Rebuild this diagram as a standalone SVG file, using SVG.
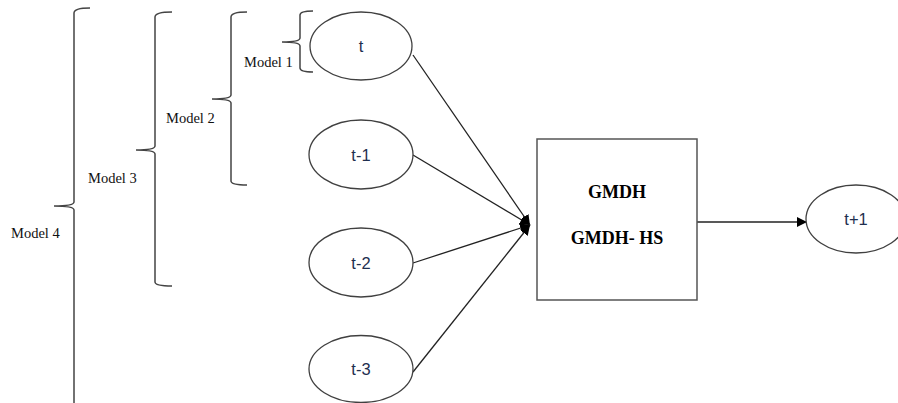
<svg xmlns="http://www.w3.org/2000/svg" width="898" height="403" viewBox="0 0 898 403">
<style>
.node{fill:#fff;stroke:#404040;stroke-width:1.3}
.lbl{font-family:"Liberation Sans",Arial,sans-serif;font-size:16.5px;fill:#1f2f4f;text-anchor:middle}
.model{font-family:"Liberation Serif","Times New Roman",serif;font-size:14.5px;fill:#111}
.brace{fill:none;stroke:#444;stroke-width:1.5}
.conn{fill:none;stroke:#222;stroke-width:1.3}
.box{font-family:"Liberation Serif","Times New Roman",serif;font-size:18px;font-weight:bold;fill:#000;text-anchor:middle}
</style>
<defs>
<marker id="arr" viewBox="0 0 10 10" refX="10" refY="5" markerWidth="10" markerHeight="10" markerUnits="userSpaceOnUse" orient="auto">
<path d="M0,0 L10,5 L0,10 z" fill="#000"/>
</marker>
</defs>
<rect width="898" height="403" fill="#fff"/>
<g id="braces">
<g id="brace-model1"><path class="brace" d="M313,11 Q300,11 300,15 L300,38 Q300,42 282,42 Q300,42 300,46 L300,68 Q300,72 313,72"/><text class="model" x="244" y="67">Model 1</text></g>
<g id="brace-model2"><path class="brace" d="M247,12 Q231,12 231,17 L231,95 Q231,99 212,99 Q231,99 231,103 L231,181 Q231,185 247,185"/><text class="model" x="166" y="123">Model 2</text></g>
<g id="brace-model3"><path class="brace" d="M172,12 Q155,12 155,17 L155,146 Q155,150 136,150 Q155,150 155,154 L155,282 Q155,286 172,286"/><text class="model" x="88" y="183">Model 3</text></g>
<g id="brace-model4"><path class="brace" d="M90,8 Q74,8 74,13 L74,202 Q74,206 54,206 Q74,206 74,210 L74,410"/><text class="model" x="11" y="238">Model 4</text></g>
</g>
<g id="connectors">
<path class="conn" d="M413,55 L530,225" marker-end="url(#arr)"/>
<path class="conn" d="M413,155 L530,225" marker-end="url(#arr)"/>
<path class="conn" d="M413,263 L530,225" marker-end="url(#arr)"/>
<path class="conn" d="M413,372 L530,225" marker-end="url(#arr)"/>
<path class="conn" d="M697,222 L807,222" marker-end="url(#arr)"/>
</g>
<g id="node-t"><ellipse class="node" cx="361" cy="46" rx="51" ry="34"/><text class="lbl" x="361" y="52">t</text></g>
<g id="node-t1"><ellipse class="node" cx="361" cy="154.5" rx="52" ry="34.5"/><text class="lbl" x="361" y="160.5">t-1</text></g>
<g id="node-t2"><ellipse class="node" cx="361" cy="262.5" rx="52" ry="34.5"/><text class="lbl" x="361" y="268.5">t-2</text></g>
<g id="node-t3"><ellipse class="node" cx="361" cy="369" rx="52" ry="33.5"/><text class="lbl" x="361" y="375">t-3</text></g>
<g id="node-gmdh"><rect x="537" y="139" width="160" height="161" fill="#fff" stroke="#555" stroke-width="1.5"/><text class="box" x="617" y="198">GMDH</text><text class="box" x="617" y="244">GMDH- HS</text></g>
<g id="node-t+1"><ellipse class="node" cx="856" cy="219" rx="50" ry="34"/><text class="lbl" x="856" y="225">t+1</text></g>
</svg>
